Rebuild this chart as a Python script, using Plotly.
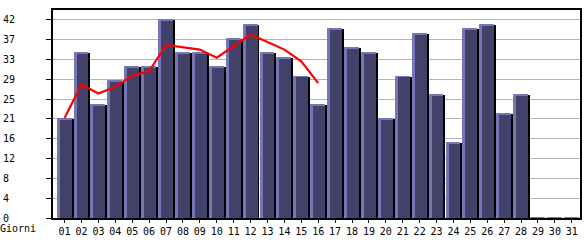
import plotly.graph_objects as go

days = list(range(1, 32))
day_labels = [f"{d:02d}" for d in days]
values = [21, 35, 24, 29, 32, 32, 42, 35, 35, 32, 38, 41, 35, 34, 30, 24,
          40, 36, 35, 21, 30, 39, 26, 16, 40, 41, 22, 26, 0, 0, 0]
trend_days = list(range(1, 17))
trend_values = [21.2, 28.3, 26.4, 27.8, 30.2, 31.1, 36.7, 36.2, 35.7, 34.0,
                36.4, 38.9, 37.3, 35.7, 33.2, 28.6]
ytick_vals = [0, 4.2, 8.4, 12.6, 16.8, 21, 25.2, 29.4, 33.6, 37.8, 42]
ytick_text = ["0", "4", "8", "12", "16", "21", "25", "29", "33", "37", "42"]

W, H = 585, 240
ML, MR, MT, MB = 50, 3, 10, 20
xr = [0.315, 31.485]
yr = [0, 44.1]
ppx = (W - ML - MR) / (xr[1] - xr[0])
ppy = (H - MT - MB) / (yr[1] - yr[0])

LIGHT = "#7676b6"
DARK = "#414169"
FONT = dict(family="DejaVu Sans Mono", size=10, color="#000000")

fig = go.Figure()
fig.add_trace(go.Bar(x=days, y=values, width=16 / ppx, offset=-7 / ppx,
                     marker=dict(color="#000000", line=dict(width=0)),
                     hoverinfo="skip"))
fig.add_trace(go.Bar(x=days, y=values, width=14 / ppx, offset=-7 / ppx,
                     marker=dict(color=LIGHT, line=dict(color=LIGHT, width=1))))
fig.add_trace(go.Bar(x=days, y=[max(v - 1 / ppy, 0) for v in values],
                     width=12 / ppx, offset=-5 / ppx,
                     marker=dict(color=DARK, line=dict(width=0)),
                     hoverinfo="skip"))
fig.add_trace(go.Scatter(x=trend_days, y=trend_values, mode="lines",
                         line=dict(color="#ff0000", width=2.2)))

fig.update_layout(
    width=W, height=H,
    margin=dict(l=ML, r=MR, t=MT, b=MB, pad=0),
    paper_bgcolor="#ffffff", plot_bgcolor="#ffffff",
    barmode="overlay", bargap=0, showlegend=False,
    font=FONT,
)
fig.update_xaxes(range=xr, tickmode="array", tickvals=days, ticktext=day_labels,
                 ticks="outside", ticklen=3, tickcolor="#000000", tickwidth=1,
                 showgrid=False, zeroline=False,
                 showline=True, linecolor="#000000", linewidth=2, mirror=True,
                 tickfont=FONT, fixedrange=True)
fig.update_yaxes(range=yr, tickmode="array", tickvals=ytick_vals,
                 ticktext=[t if len(t) == 2 else t + "\u00a0" for t in ytick_text],
                 ticks="outside", ticklen=5, tickcolor="#000000", tickwidth=1,
                 showgrid=True, gridcolor="#b4b4b4", gridwidth=1, zeroline=False,
                 showline=True, linecolor="#000000", linewidth=2, mirror=True,
                 tickfont=FONT, ticklabelstandoff=29, fixedrange=True)
fig.add_annotation(text="Giorni", xref="paper", yref="paper", x=0, y=0,
                   xanchor="left", yanchor="top", xshift=-54, yshift=-4,
                   borderpad=0, showarrow=False, font=FONT)

fig.write_html("out.html", config={"displayModeBar": False})
